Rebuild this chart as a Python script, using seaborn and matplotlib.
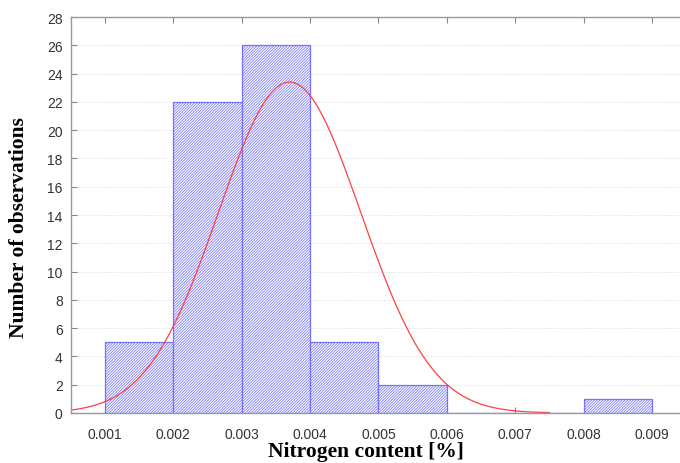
import numpy as np
import pandas as pd
import matplotlib
matplotlib.use("Agg")
import matplotlib.pyplot as plt
import seaborn as sns

# Data
bin_left = [0.001, 0.002, 0.003, 0.004, 0.005, 0.006, 0.007, 0.008]
counts = [5, 22, 26, 5, 2, 0, 0, 1]
bin_width = 0.001
fit_mean = 0.0037
fit_sd = 0.00104
n_obs = sum(counts)
x_ticks = [0.001, 0.002, 0.003, 0.004, 0.005, 0.006, 0.007, 0.008, 0.009]
x_tick_labels = ["0.001", "0.002", "0.003", "0.004", "0.005", "0.006", "0.007", "0.008", "0.009"]
y_ticks = list(range(0, 29, 2))

sns.set_style("white")
plt.rcParams["hatch.linewidth"] = 0.55
plt.rcParams["font.family"] = ["Liberation Sans", "DejaVu Sans"]

fig = plt.figure(figsize=(6.8, 4.64), dpi=100)
ax = fig.add_axes([71 / 680, 1 - 414 / 464, 609 / 680, 396 / 464])

centers = [b + bin_width / 2 for b in bin_left]
df = pd.DataFrame({"x": centers, "w": counts})
edges = bin_left + [bin_left[-1] + bin_width]
sns.histplot(data=df, x="x", weights="w", bins=edges, ax=ax,
             color="white", edgecolor="#4a4aff", linewidth=0.9, alpha=1)
for p in ax.patches:
    p.set_hatch("/" * 12)
    p.set_facecolor("white")
    p.set_edgecolor("#7272ff")

xs = np.linspace(0.0005, 0.0075, 400)
ys = n_obs * bin_width / (fit_sd * np.sqrt(2 * np.pi)) * np.exp(-0.5 * ((xs - fit_mean) / fit_sd) ** 2)
sns.lineplot(x=xs, y=ys, ax=ax, color="#ff4040", linewidth=0.9)

ax.set_xlim(0.000503, 0.00941)
ax.set_ylim(0, 28)
ax.set_xticks(x_ticks)
ax.set_xticklabels(x_tick_labels)
ax.set_yticks(y_ticks)
ax.yaxis.grid(True, linestyle=(0, (1, 2)), color="#d0d0d0", linewidth=0.6)
ax.set_axisbelow(True)
ax.tick_params(axis="both", direction="in", length=4, color="#888888",
               labelsize=10, labelcolor="#333333", top=True, bottom=True, left=True)
ax.tick_params(axis="x", pad=10)
ax.tick_params(axis="y", pad=6)
for s in ["left", "bottom", "top"]:
    ax.spines[s].set_color("#999999")
    ax.spines[s].set_linewidth(1.0)
ax.spines["right"].set_visible(False)

ax.set_xlabel("Nitrogen content [%]", family=["Liberation Serif", "DejaVu Serif"],
              fontweight="bold", fontsize=15.5, color="black", va="center")
ax.set_ylabel("Number of observations", family=["Liberation Serif", "DejaVu Serif"],
              fontweight="bold", fontsize=15.5, color="black", va="center")
ax.xaxis.set_label_coords((366 - 71) / 609, -(452 - 414) / 396)
ax.yaxis.set_label_coords(-(71 - 19) / 609, (414 - 228) / 396)

fig.savefig("out.png", dpi=100)
